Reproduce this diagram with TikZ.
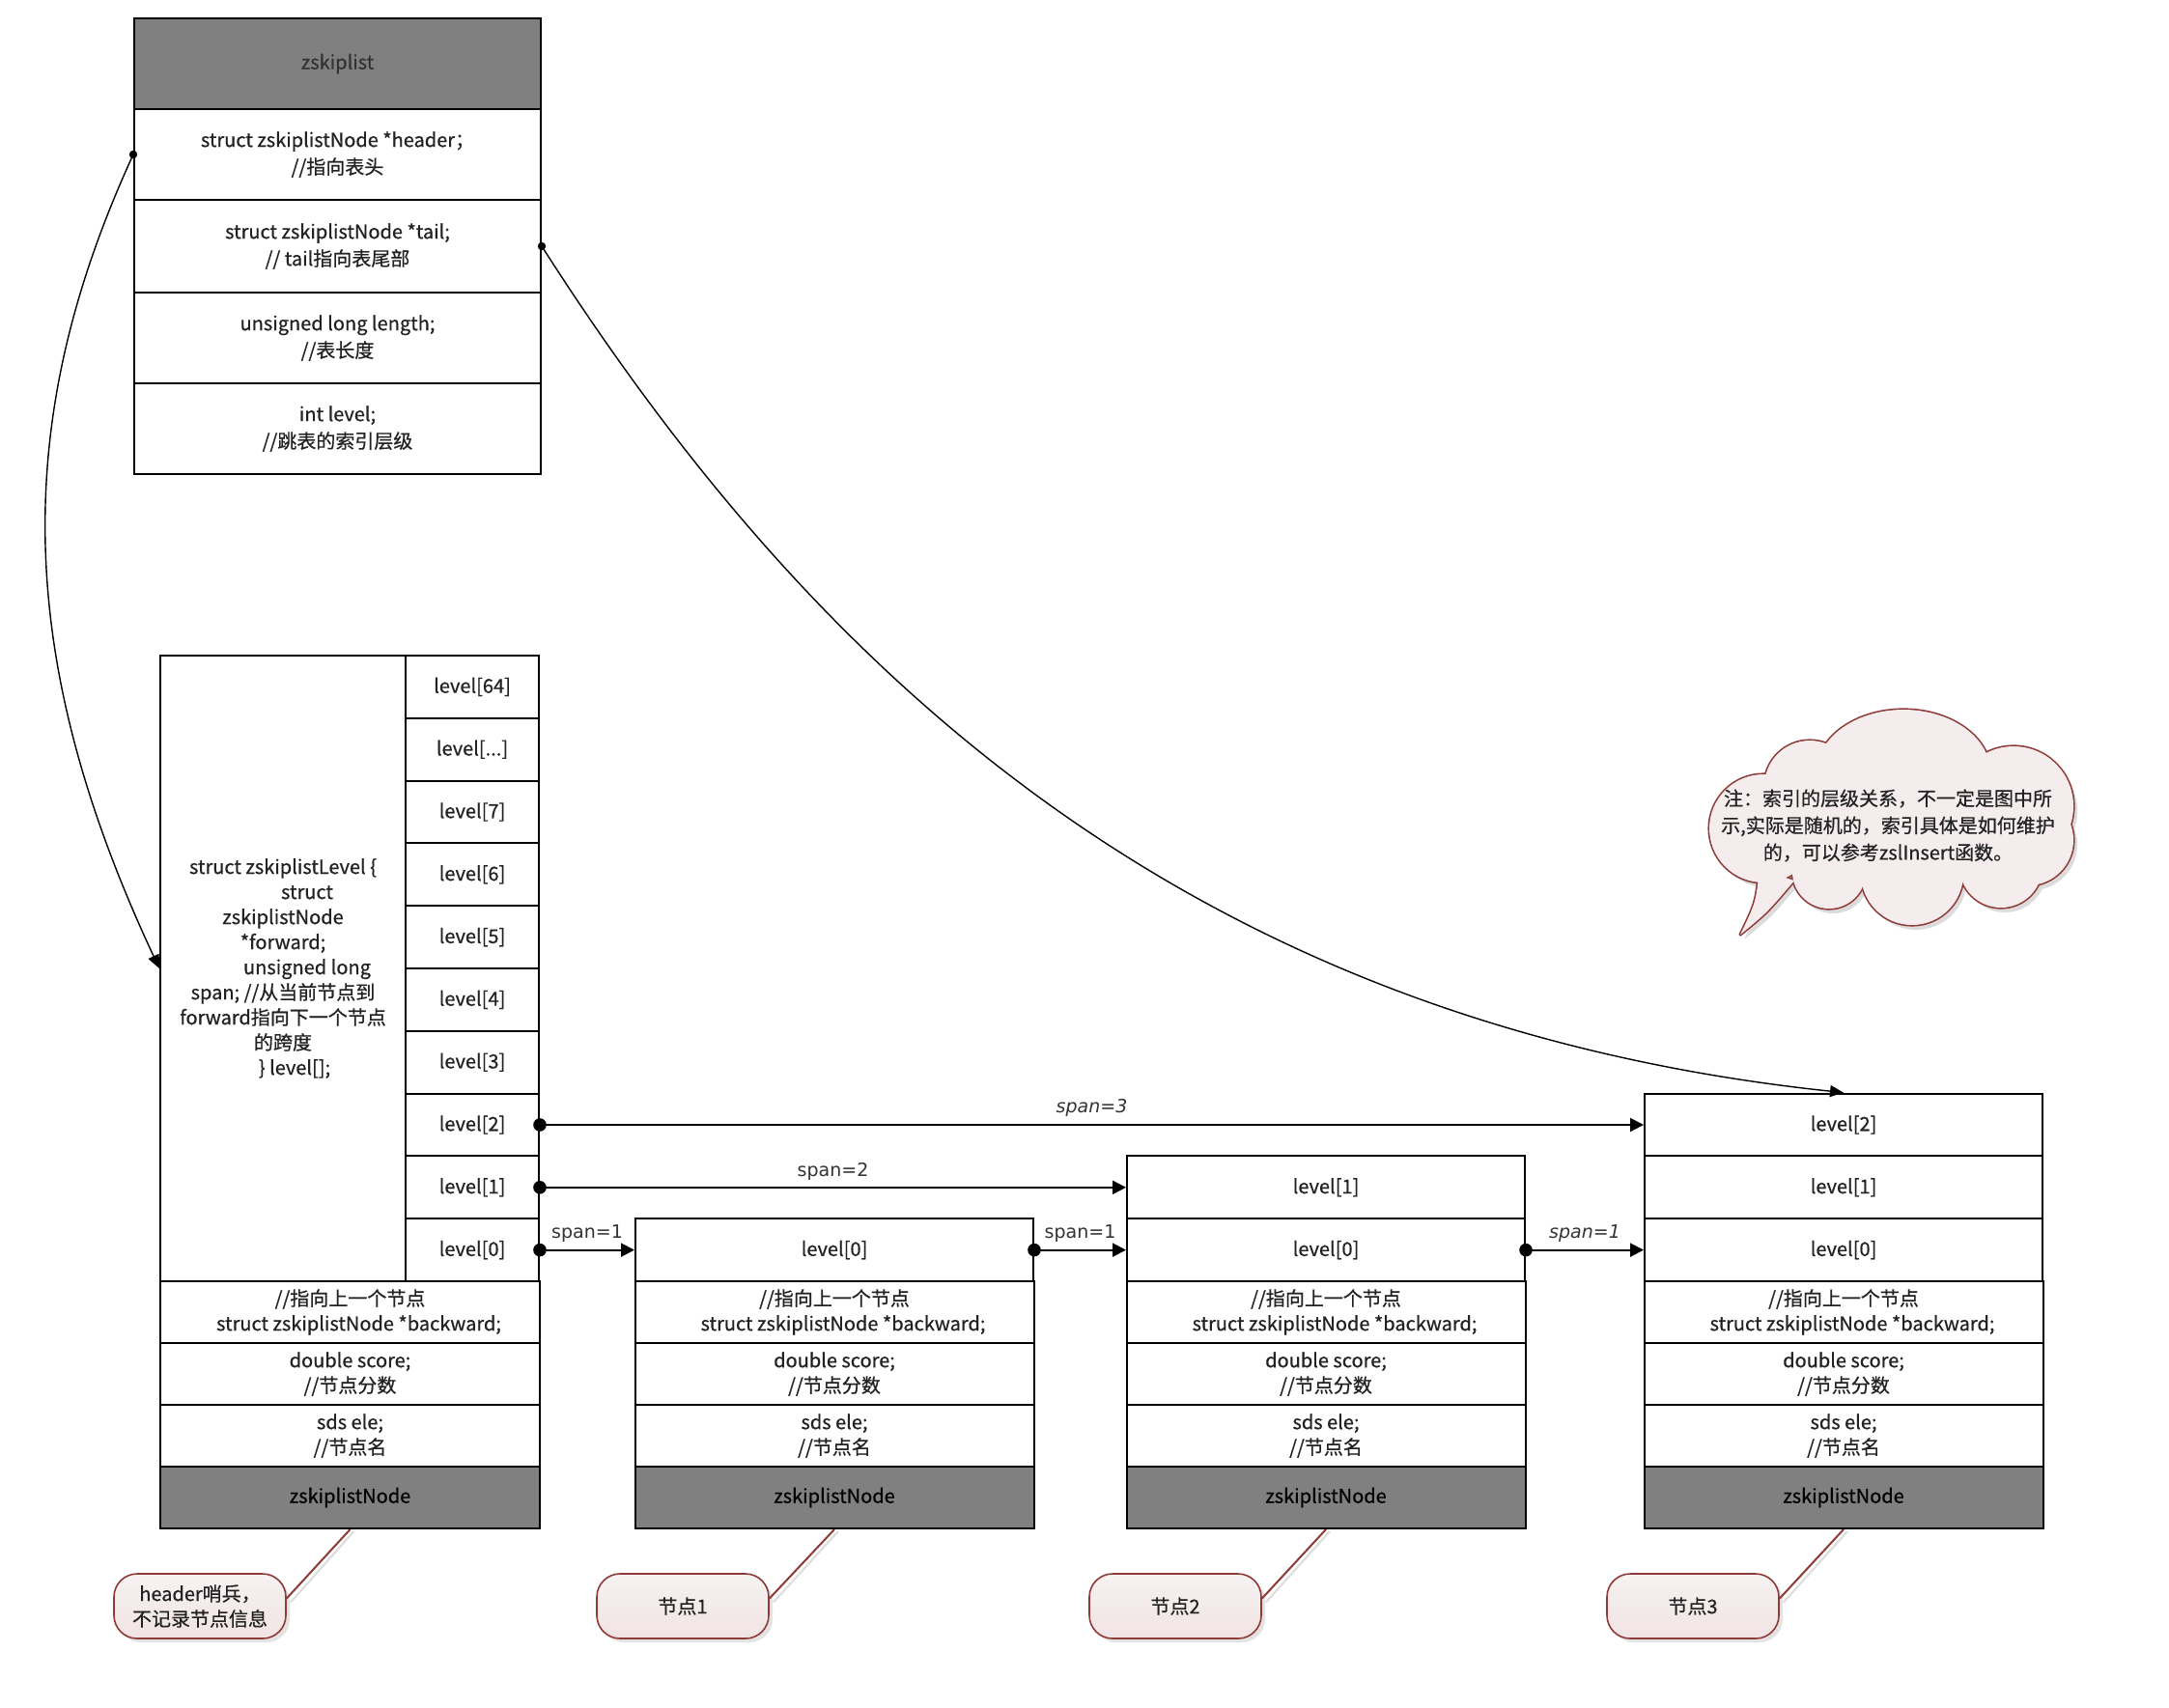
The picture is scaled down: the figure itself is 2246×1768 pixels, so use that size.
\documentclass[tikz,border=0pt]{standalone}
\usepackage{fontspec}
\setmainfont{Noto Sans CJK SC}[FakeBold=0.6]
\newfontfamily\spanfont{DejaVu Sans}
\usetikzlibrary{arrows.meta,calc,shadows}
\definecolor{grayfill}{HTML}{808080}
\definecolor{txt}{HTML}{222222}
\definecolor{cborder}{HTML}{8E3A37}
\definecolor{cfilltop}{HTML}{F7F2F2}
\definecolor{cfillbot}{HTML}{F1E3E3}
\definecolor{cloudfill}{HTML}{F5EDED}
\definecolor{shadowgray}{HTML}{DCDCDC}
\begin{document}
\begin{tikzpicture}[x=0.5pt,y=-0.5pt,
  every node/.style={font=\fontsize{10pt}{13pt}\selectfont, text=txt},
  cell/.style={draw=black, line width=1pt, inner sep=0pt, align=center, fill=white},
  sz/.style 2 args={minimum width=#1*0.5pt, minimum height=#2*0.5pt},
  graycell/.style={cell, fill=grayfill},
  link/.style={line width=1pt, -{Triangle[length=7pt,width=7pt]}},
  bigdot/.style={fill=black},
  spanlbl/.style={font=\spanfont\fontsize{9.5pt}{11pt}\selectfont, text=black!80},
  curvelink/.style={line width=0.7pt, -{Triangle[length=7pt,width=6pt]}},
  callout/.style={draw=cborder, line width=0.8pt, rounded corners=12pt,
    top color=cfilltop, bottom color=cfillbot, align=center, inner sep=0pt,
    minimum width=89pt, minimum height=33.5pt,
    drop shadow={shadow xshift=2pt, shadow yshift=-2pt, fill=shadowgray, opacity=0.8}},
  leader/.style={draw=cborder, line width=1pt},
  leadershadow/.style={draw=shadowgray, line width=1pt},
]
\fill[white] (0,0) rectangle (2246,1768);
\useasboundingbox (0,0) rectangle (2246,1768);

% ---------------- zskiplist ----------------
\node[graycell, sz={421}{94}, text=black!80] (zl0) at (349.5,66) {zskiplist};
\node[cell, sz={421}{94}, font=\fontsize{10pt}{14pt}\selectfont] (zl1) at (349.5,160) {struct zskiplistNode *header；\\//指向表头};
\node[cell, sz={421}{96}, font=\fontsize{10pt}{14pt}\selectfont] (zl2) at (349.5,255) {struct zskiplistNode *tail;\\// tail指向表尾部};
\node[cell, sz={421}{94}, font=\fontsize{10pt}{14pt}\selectfont] (zl3) at (349.5,350) {unsigned long length;\\//表长度};
\node[cell, sz={421}{94}, font=\fontsize{10pt}{14pt}\selectfont] (zl4) at (349.5,444) {int level;\\//跳表的索引层级};

% ---------------- header node ----------------
\node[cell, sz={254}{648}] (hS) at (293,1003) {struct zskiplistLevel \{\\\hspace*{25pt}struct\\zskiplistNode\\*forward;\\\hspace*{25pt}unsigned long\\span; //从当前节点到\\forward指向下一个节点\\的跨度\\\hspace*{12pt}\} level[];};
\node[cell, sz={138}{64.8}] (hl64) at (489,711.4) {level[64]};
\node[cell, sz={138}{64.8}] (hlx) at (489,776.2) {level[...]};
\node[cell, sz={138}{64.8}] (hl7) at (489,841.0) {level[7]};
\node[cell, sz={138}{64.8}] (hl6) at (489,905.8) {level[6]};
\node[cell, sz={138}{64.8}] (hl5) at (489,970.6) {level[5]};
\node[cell, sz={138}{64.8}] (hl4) at (489,1035.4) {level[4]};
\node[cell, sz={138}{64.8}] (hl3) at (489,1100.2) {level[3]};
\node[cell, sz={138}{64.8}] (hl2) at (489,1165.0) {level[2]};
\node[cell, sz={138}{64.8}] (hl1) at (489,1229.8) {level[1]};
\node[cell, sz={138}{64.8}] (hl0) at (489,1294.6) {level[0]};

% ---------------- other level cells ----------------
\node[cell, sz={412}{64.8}] (aL0) at (864,1294.6) {level[0]};
\node[cell, sz={412}{64.8}] (bL1) at (1373,1229.8) {level[1]};
\node[cell, sz={412}{64.8}] (bL0) at (1373,1294.6) {level[0]};
\node[cell, sz={412}{64.8}] (cL2) at (1909,1165.0) {level[2]};
\node[cell, sz={412}{64.8}] (cL1) at (1909,1229.8) {level[1]};
\node[cell, sz={412}{64.8}] (cL0) at (1909,1294.6) {level[0]};

% ---------------- lower rows of all nodes ----------------
\foreach \p/\cx/\w in {h/362.5/393, a/864/413, b/1373/413, c/1909/413}{
  \node[cell, sz={\w}{64}] (\p B) at (\cx,1359) {//指向上一个节点\\\hspace*{9pt}struct zskiplistNode *backward;};
  \node[cell, sz={\w}{64}] (\p Sc) at (\cx,1423) {double score;\\//节点分数};
  \node[cell, sz={\w}{64}] (\p E) at (\cx,1487) {sds ele;\\//节点名};
  \node[graycell, sz={\w}{64}, text=black] (\p N) at (\cx,1551) {zskiplistNode};
}

% ---------------- forward links ----------------
\draw[link] (hl2.east) -- (cL2.west) node[midway, spanlbl, yshift=9pt] {\itshape span=3};
\draw[link] (hl1.east) -- (bL1.west) node[midway, spanlbl, yshift=8pt] {span=2};
\draw[link] (hl0.east) -- (aL0.west) node[midway, spanlbl, yshift=8.5pt] {span=1};
\draw[link] (aL0.east) -- (bL0.west) node[midway, spanlbl, yshift=8.5pt] {span=1};
\draw[link] (bL0.east) -- (cL0.west) node[midway, spanlbl, yshift=8.5pt] {\itshape span=1};
\foreach \n in {hl2,hl1,hl0,aL0,bL0}{
  \fill[bigdot] (\n.east) circle (3.4pt);
}

% ---------------- header / tail pointers ----------------
\draw[curvelink] (zl1.west) .. controls (12,434) and (14,680) .. (hS.west);
\fill (zl1.west) circle (2.1pt);
\draw[curvelink] (zl2.east) .. controls (830,676) and (1212,1058) .. (cL2.north);
\fill (zl2.east) circle (2.1pt);

% ---------------- cloud note ----------------
\begin{scope}
  \begin{scope}[shift={(4,5)}]
    \foreach \cx/\cy/\r in {1874/814/47, 1826/858/56, 2085/835/62, 2100/870/47, 2072/897/43, 1980/905/53, 1894/903/38}{
      \fill[shadowgray] (\cx,\cy) circle (\r);
    }
    \fill[shadowgray] (1971,800) ellipse (90 and 65);
    \fill[shadowgray] (1960,853) ellipse (150 and 63);
    \fill[shadowgray] (1822,900) .. controls (1818,935) .. (1802,968) .. controls (1830,945) .. (1858,912) -- cycle;
  \end{scope}
  \foreach \cx/\cy/\r in {1874/814/47, 1826/858/56, 2085/835/62, 2100/870/47, 2072/897/43, 1980/905/53, 1894/903/38}{
    \draw[cborder, line width=1.6pt] (\cx,\cy) circle (\r);
  }
  \draw[cborder, line width=1.6pt] (1971,800) ellipse (90 and 65);
  \draw[cborder, line width=1.6pt, line join=round] (1822,900) .. controls (1818,935) .. (1802,968) .. controls (1830,945) .. (1858,912) -- cycle;
  \foreach \cx/\cy/\r in {1874/814/47, 1826/858/56, 2085/835/62, 2100/870/47, 2072/897/43, 1980/905/53, 1894/903/38}{
    \fill[cloudfill] (\cx,\cy) circle (\r);
  }
  \fill[cloudfill] (1971,800) ellipse (90 and 65);
  \fill[cloudfill] (1960,853) ellipse (150 and 63);
  \fill[cloudfill] (1822,900) .. controls (1818,935) .. (1802,968) .. controls (1830,945) .. (1858,912) -- cycle;
\end{scope}
\node[align=center, font=\fontsize{10pt}{14pt}\selectfont] (note) at (1955,855)
  {注：索引的层级关系，不一定是图中所\\示,实际是随机的，索引具体是如何维护\\的，可以参考zslInsert函数。};

% ---------------- callouts ----------------
\node[callout] (k0) at (207,1663.5) {header哨兵，\\不记录节点信息};
\node[callout] (k1) at (707,1663.5) {节点1};
\node[callout] (k2) at (1217,1663.5) {节点2};
\node[callout] (k3) at (1753,1663.5) {节点3};
\foreach \n/\k in {h/k0, a/k1, b/k2, c/k3}{
  \draw[leadershadow] ($(\n N.south)+(4,2)$) -- ($(\k.east)+(4,-4)$);
  \draw[leader] (\n N.south) -- ($(\k.east)+(0,-8)$);
}
\end{tikzpicture}
\end{document}
